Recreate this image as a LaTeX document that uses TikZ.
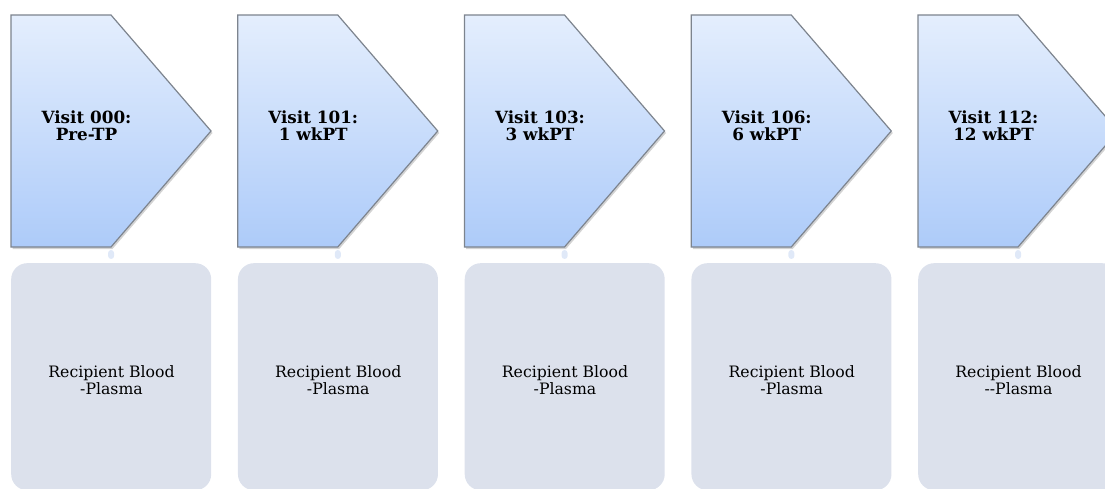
\documentclass[tikz,border=0pt]{standalone}
\usepackage{fontspec}
\setmainfont{DejaVu Serif}
\usetikzlibrary{shadows}
\definecolor{chevtop}{HTML}{E4EEFD}
\definecolor{chevbot}{HTML}{ADCBF9}
\definecolor{chevline}{HTML}{7D848E}
\definecolor{cardfill}{HTML}{DCE1EC}
\definecolor{linkfill}{HTML}{E0E9F8}
\tikzset{
  chevron/.style={draw=chevline, line width=1.2pt, top color=chevtop, bottom color=chevbot,
    drop shadow={shadow xshift=1.5pt, shadow yshift=-2pt, opacity=0.35}},
  visitlabel/.style={anchor=base, align=center, inner sep=0pt,
    font=\bfseries\fontsize{16.8}{17}\selectfont},
  card/.style={rectangle, rounded corners=16pt, fill=cardfill, minimum width=200pt,
    minimum height=227pt, inner sep=0pt, anchor=north west},
  samplelabel/.style={anchor=base, align=center, inner sep=0pt,
    font=\fontsize{15.7}{17}\selectfont},
  link/.style={line width=6pt, draw=linkfill, line cap=round, shorten <=6pt, shorten >=7pt},
}
\begin{document}
\begin{tikzpicture}[x=1pt,y=-1pt]
\useasboundingbox (0,0) rectangle (1105,489);
\clip (0,0) rectangle (1105,489);
\foreach \i/\vis/\wk/\samp in {1/000/Pre-TP/-Plasma, 2/101/1 wkPT/-Plasma,
    3/103/3 wkPT/-Plasma, 4/106/6 wkPT/-Plasma, 5/112/12 wkPT/-{}-Plasma}{
  \pgfmathsetmacro{\x}{11+226.75*(\i-1)}
  % visit chevron
  \path[chevron] (\x,15) -- ({\x+100},15) -- ({\x+200},131) -- ({\x+100},247)
    -- (\x,247) -- cycle;
  \coordinate (tip\i) at ({\x+100},247);
  % the base anchor of a two-line label sits on its last line
  \node[visitlabel] (visit\i) at ({\x+75.5},140.3) {Visit \vis:\\\wk};
  % sample card
  \node[card] (card\i) at (\x,263) {};
  \node[samplelabel] (sample\i) at ({\x+100.5},394) {Recipient Blood\\\samp};
  \draw[link] (tip\i) -- (card\i.north);
}
\end{tikzpicture}
\end{document}
